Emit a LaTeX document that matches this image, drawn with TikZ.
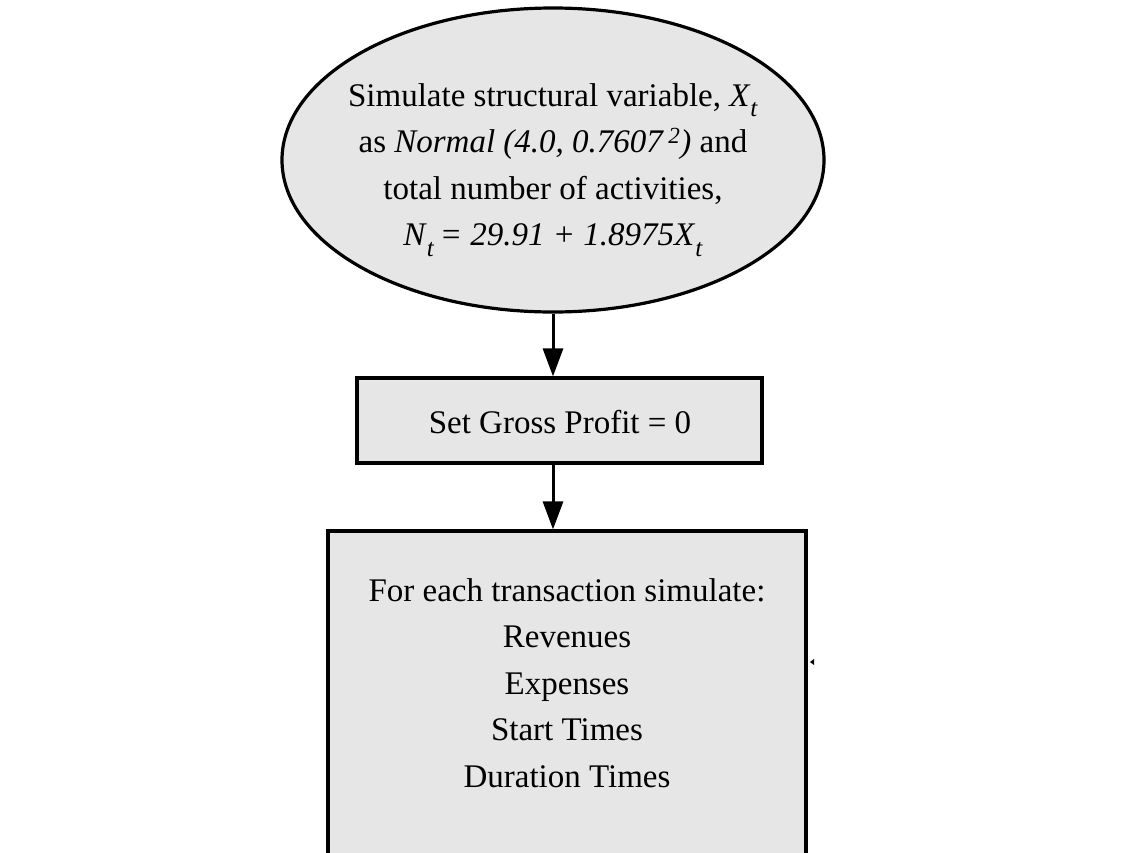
\documentclass[tikz,border=0pt]{standalone}
\usepackage{fontspec}
\setmainfont{Liberation Serif}
\usetikzlibrary{arrows.meta,shapes.geometric}
\definecolor{boxgray}{HTML}{E6E6E6}
\newcommand{\lowsub}[1]{\raisebox{-0.32em}{\fontsize{25}{25}\selectfont\textit{#1}}}
\tikzset{
  shapeframe/.style={draw=black, fill=boxgray, line width=3.2pt, inner sep=0pt},
  txt/.style={align=center, inner sep=0pt, font=\fontsize{33}{46.5}\selectfont},
  flowarrow/.style={line width=3pt, -{Triangle[width=20pt,length=28pt]}}
}
\begin{document}
\begin{tikzpicture}[x=1pt,y=-1pt]
\useasboundingbox (0,0) rectangle (1133,852);
\clip (0,0) rectangle (1133,852);
\node[shapeframe, ellipse, minimum width=542pt, minimum height=304pt] (e) at (553,160) {};
\node[txt] (et) at (553,170) {Simulate structural variable, \textit{X}\lowsub{t}\\
as \textit{Normal (4.0, 0.7607\,\textsuperscript{2})} and\\
total number of activities,\\
\textit{N}\lowsub{t}\textit{\,= 29.91 + 1.8975X}\lowsub{t}};
\node[shapeframe, rectangle, minimum width=405pt, minimum height=85pt] (b1) at (559.5,420.5) {};
\node[txt] (b1t) at (560,422) {Set Gross Profit = 0};
\node[shapeframe, rectangle, minimum width=478pt, minimum height=380pt] (b2) at (567,721) {};
\node[txt] (b2t) at (567,683) {For each transaction simulate:\\Revenues\\Expenses\\Start Times\\Duration Times};
\draw[flowarrow] (e.south) -- (e.south |- b1.north);
\draw[flowarrow] (e.south |- b1.south) -- (e.south |- b2.north);
\coordinate (tip) at (810,662);
\fill (tip) -- ++(4,-3) -- ++(0,6) -- cycle;
\end{tikzpicture}
\end{document}
